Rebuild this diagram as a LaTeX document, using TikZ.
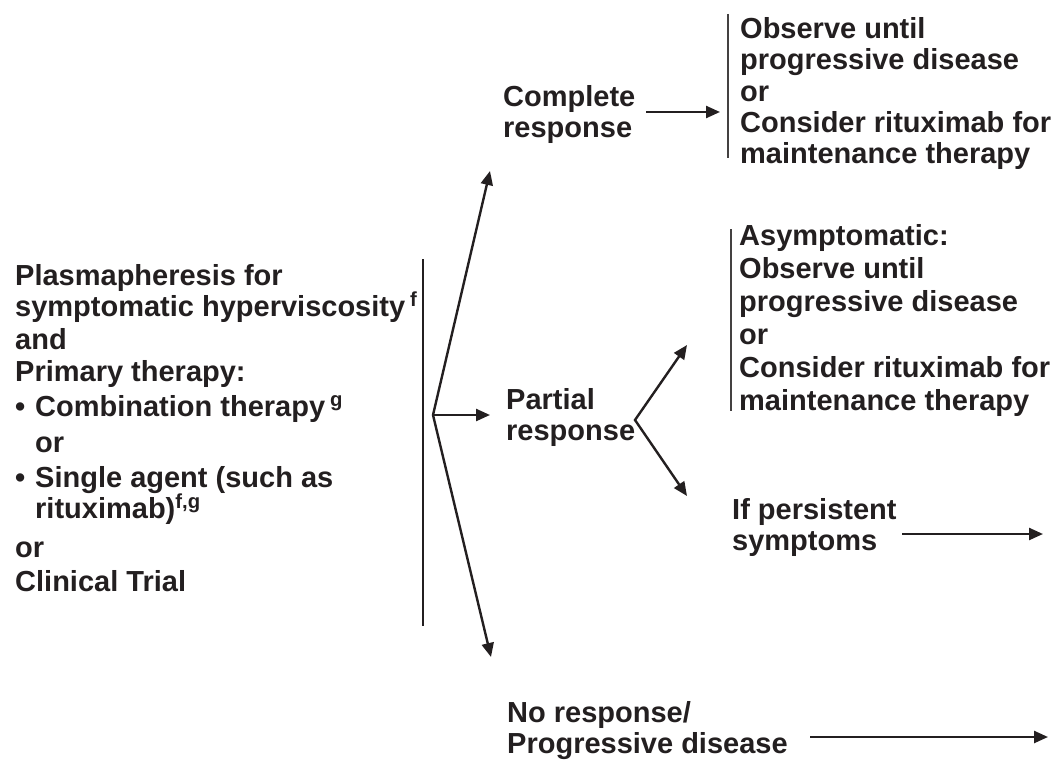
\documentclass[tikz,border=0pt]{standalone}
\usepackage{fontspec}
\setmainfont{Liberation Sans}
\usetikzlibrary{arrows.meta}
\definecolor{ink}{RGB}{35,31,32}

\begin{document}
\begin{tikzpicture}[x=1pt,y=-1pt,
	txt/.style={anchor=base west, align=left, inner sep=0pt, text=ink,
		font=\bfseries\fontsize{29}{31}\selectfont},
	arr/.style={line width=2.4pt, draw=ink, -{Triangle[length=14pt,width=12pt]}},
	fork/.style={line width=2.4pt, draw=ink, {Triangle[length=14pt,width=12pt]}-{Triangle[length=14pt,width=12pt]}},
	bar/.style={line width=1.4pt, draw=ink!85}]
	%%%%% START %%%%%
	\useasboundingbox (0,0) rectangle (1057,773);
	
	% the anchor is the baseline of the last line
	\node[txt] (plasma) at (15,591) {Plasmapheresis for\\
		symptomatic hyperviscosity\,\textsuperscript{f}\\[2pt]
		and\\[1pt]
		Primary therapy:\\[4pt]
		\makebox[20pt][l]{\textbullet}Combination therapy\,\textsuperscript{g}\\[5pt]
		\hspace*{20pt}or\\[4pt]
		\makebox[20pt][l]{\textbullet}Single agent (such as\\
		\hspace*{20pt}rituximab)\textsuperscript{f,g}\\[8pt]
		or\\[3pt]
		Clinical Trial};
	\draw[line width=2.4pt, ink] (423,259) -- (423,626);
	
	\node[txt] (complete) at (503,138) {Complete\\response};
	\node[txt] (partial) at (506,440) {Partial\\response};
	\node[txt] (noresp) at (507,753) {No response/\\Progressive disease};
	
	\node[txt] (observe) at (740,163) {Observe until\\progressive disease\\or\\Consider rituximab for\\maintenance therapy};
	\draw[bar] (728,14) -- (728,158);
	
	\node[txt, font=\bfseries\fontsize{29}{33}\selectfont] (asympt) at (739,410) {Asymptomatic:\\Observe until\\progressive disease\\or\\Consider rituximab for\\maintenance therapy};
	\draw[bar] (731,229) -- (731,411);
	
	\node[txt] (persist) at (732,550) {If persistent\\symptoms};
	
	% fan out of the primary therapy
	\coordinate (fan) at (433,415);
	\coordinate (fanup) at (490,171);
	\coordinate (fanmid) at (490,415);
	\coordinate (fandown) at (491,657);
	\draw[fork] (fanup) -- (fan) -- (fandown);
	\draw[arr] (fan) -- (fanmid);
	
	% partial response split
	\coordinate (pr) at (635,420);
	\coordinate (prup) at (687,345);
	\coordinate (prdown) at (687,496);
	\draw[fork] (prup) -- (pr) -- (prdown);
	
	% horizontal arrows
	\coordinate (crend) at (720,112);
	\draw[arr] (646,112) -- (crend);
	\coordinate (psend) at (1043,534);
	\draw[arr] (902,534) -- (psend);
	\coordinate (nrend) at (1048,737);
	\draw[arr] (810,737) -- (nrend);
	%%%%% END %%%%%
\end{tikzpicture}
\end{document}
